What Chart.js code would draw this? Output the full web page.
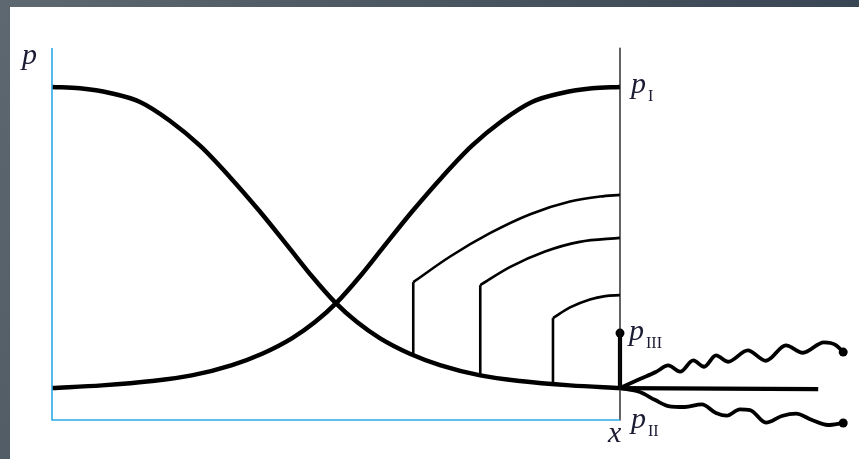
<!DOCTYPE html>
<html>
<head>
<meta charset="utf-8">
<script src="https://cdn.jsdelivr.net/npm/chart.js@4"></script>
<style>
  html, body { margin: 0; padding: 0; }
  body {
    width: 859px; height: 459px; overflow: hidden; position: relative;
    background: linear-gradient(120deg, #5e6870 0%, #47535e 45%, #2f3c4c 100%);
  }
  #panel { position: absolute; left: 10px; top: 7px; width: 849px; height: 452px; background: #fff; }
  #chart { position: absolute; left: 0; top: 0; }
</style>
</head>
<body>
<div id="panel"></div>
<canvas id="chart" width="859" height="459"></canvas>
<script>
// x: 0 at the left axis, 100 at the right wall; y: 0 at the bottom axis, 100 = pI
let fallX = [0, 4.9, 10.2, 15.5, 20.8, 26.1, 31.3, 36.6, 41.9, 45.8, 49.8, 53.7, 57.7, 63.0, 68.3, 75.4, 82.4, 91.2, 100];
let fallY = [100, 99.6, 98.2, 95.5, 89.8, 82.3, 73.0, 62.6, 51.4, 43.1, 35.4, 29.4, 24.6, 19.9, 16.5, 13.4, 11.7, 10.4, 9.6];

let riseX = [0, 8.8, 17.6, 24.6, 31.7, 37.0, 42.3, 46.3, 50.2, 54.2, 58.1, 63.4, 68.7, 73.9, 79.2, 84.5, 89.8, 95.1, 100];
let riseY = [9.6, 10.4, 11.7, 13.4, 16.5, 19.9, 24.6, 29.4, 35.4, 43.1, 51.4, 62.6, 73.0, 82.3, 89.8, 95.5, 98.2, 99.6, 100];

// three branches: a vertical jump off the falling curve, then a bend up to the wall
let branch1X = [63.6, 70.1, 77.1, 84.2, 91.2, 96.5, 100];
let branch1Y = [41.4, 49.1, 56.1, 61.8, 65.6, 67.1, 67.6];
let branch2X = [75.4, 80.6, 86.8, 92.9, 100];
let branch2Y = [40.5, 45.9, 50.6, 53.5, 54.7];
let branch3X = [88.2, 91.2, 94.7, 97.4, 100];
let branch3Y = [30.6, 33.8, 36.2, 37.2, 37.5];
let jumpBase = [19.5, 13.4, 10.8];

// pIII stem and the three rays leaving the wall
let stemY = [9.6, 26.1];
let flatX = [100, 134.9];
let flatY = [9.6, 9.3];
let upperX = [100, 103.5, 106.3, 108.5, 110.6, 112.9, 114.8, 116.9, 119.0, 122.5, 125.7, 129.2, 132.2, 135.9, 138.0, 139.3];
let upperY = [9.6, 12.3, 14.4, 16.4, 14.5, 17.9, 16.0, 19.4, 17.5, 20.9, 17.8, 22.4, 20.2, 23.3, 22.5, 20.4];
let lowerX = [100, 103.5, 106.2, 108.5, 111.4, 114.4, 116.9, 118.8, 121.1, 122.9, 125.7, 128.5, 131.0, 133.8, 136.6, 139.3];
let lowerY = [9.6, 8.4, 6.0, 4.2, 3.9, 4.7, 2.1, 1.3, 3.2, 3.0, -0.8, 1.2, 1.9, 0.0, -1.5, -0.9];

let axisTop = 111.7;

function pts(xs, ys){
  return xs.map((x, i) => ({x: x, y: ys[i]}));
}

function line(data, width, color, extra){
  return Object.assign({
    data: data,
    borderColor: color || '#000',
    borderWidth: width,
    pointRadius: 0,
    fill: false,
    tension: 0,
    borderCapStyle: 'butt',
    borderJoinStyle: 'round',
    clip: false
  }, extra || {});
}

// dot only on the last point of a line
function endDot(ctx){
  return ctx.dataIndex === ctx.dataset.data.length - 1 ? 4.5 : 0;
}

let smooth = {cubicInterpolationMode: 'monotone'};
let dotted = {cubicInterpolationMode: 'monotone', pointRadius: endDot, pointBackgroundColor: '#000', pointBorderWidth: 0};

let datasets = [
  line([{x: 0, y: axisTop}, {x: 0, y: 0}, {x: 100, y: 0}], 1.6, '#2aaae6', {borderJoinStyle: 'miter'}),
  line([{x: 100, y: axisTop}, {x: 100, y: 0}], 1.3, '#111'),
  line(pts(fallX, fallY), 4.5, '#000', smooth),
  line(pts(riseX, riseY), 4.5, '#000', smooth),
  line([{x: branch1X[0], y: jumpBase[0]}, {x: branch1X[0], y: branch1Y[0]}], 2.6),
  line(pts(branch1X, branch1Y), 2.6, '#000', smooth),
  line([{x: branch2X[0], y: jumpBase[1]}, {x: branch2X[0], y: branch2Y[0]}], 2.6),
  line(pts(branch2X, branch2Y), 2.6, '#000', smooth),
  line([{x: branch3X[0], y: jumpBase[2]}, {x: branch3X[0], y: branch3Y[0]}], 2.6),
  line(pts(branch3X, branch3Y), 2.6, '#000', smooth),
  line(pts([100, 100], stemY), 4.2, '#000', {pointRadius: endDot, pointBackgroundColor: '#000', pointBorderWidth: 0}),
  line(pts(flatX, flatY), 4.2),
  line(pts(upperX, upperY), 3.8, '#000', dotted),
  line(pts(lowerX, lowerY), 3.8, '#000', dotted)
];

// italic p with an upright roman-numeral subscript
let labelPlugin = {
  id: 'labels',
  afterDatasetsDraw(chart){
    let c = chart.ctx;
    let xs = chart.scales.x, ys = chart.scales.y;
    let mainFont = 'italic 30px "Liberation Serif", "Times New Roman", serif';
    let subFont = '16px "Liberation Serif", "Times New Roman", serif';
    c.save();
    c.fillStyle = '#1b1b33';
    c.textBaseline = 'alphabetic';
    c.textAlign = 'left';

    function put(x, y, main, sub, dx, dy){
      let px = xs.getPixelForValue(x) + dx;
      let py = ys.getPixelForValue(y) + dy;
      c.font = mainFont;
      c.fillText(main, px, py);
      if(sub){
        let w = c.measureText(main).width;
        c.font = subFont;
        c.fillText(sub, px + w + 2, py + 8);
      }
    }

    put(0, axisTop, 'p', null, -30, 16);
    put(100, 100, 'p', 'I', 11, 6);
    put(100, stemY[1], 'p', 'III', 9, 7);
    put(100, 0, 'p', 'II', 11, 8);
    put(100, 0, 'x', null, -12, 22);
    c.restore();
  }
};

new Chart(document.getElementById('chart'), {
  type: 'line',
  data: {datasets: datasets},
  options: {
    responsive: false,
    animation: false,
    layout: {padding: 0, autoPadding: false},
    plugins: {legend: {display: false}, tooltip: {enabled: false}},
    scales: {
      x: {type: 'linear', display: false, min: -9.155, max: 142.08},
      y: {type: 'linear', display: false, min: -11.71, max: 126.13}
    }
  },
  plugins: [labelPlugin]
});
</script>
</body>
</html>
